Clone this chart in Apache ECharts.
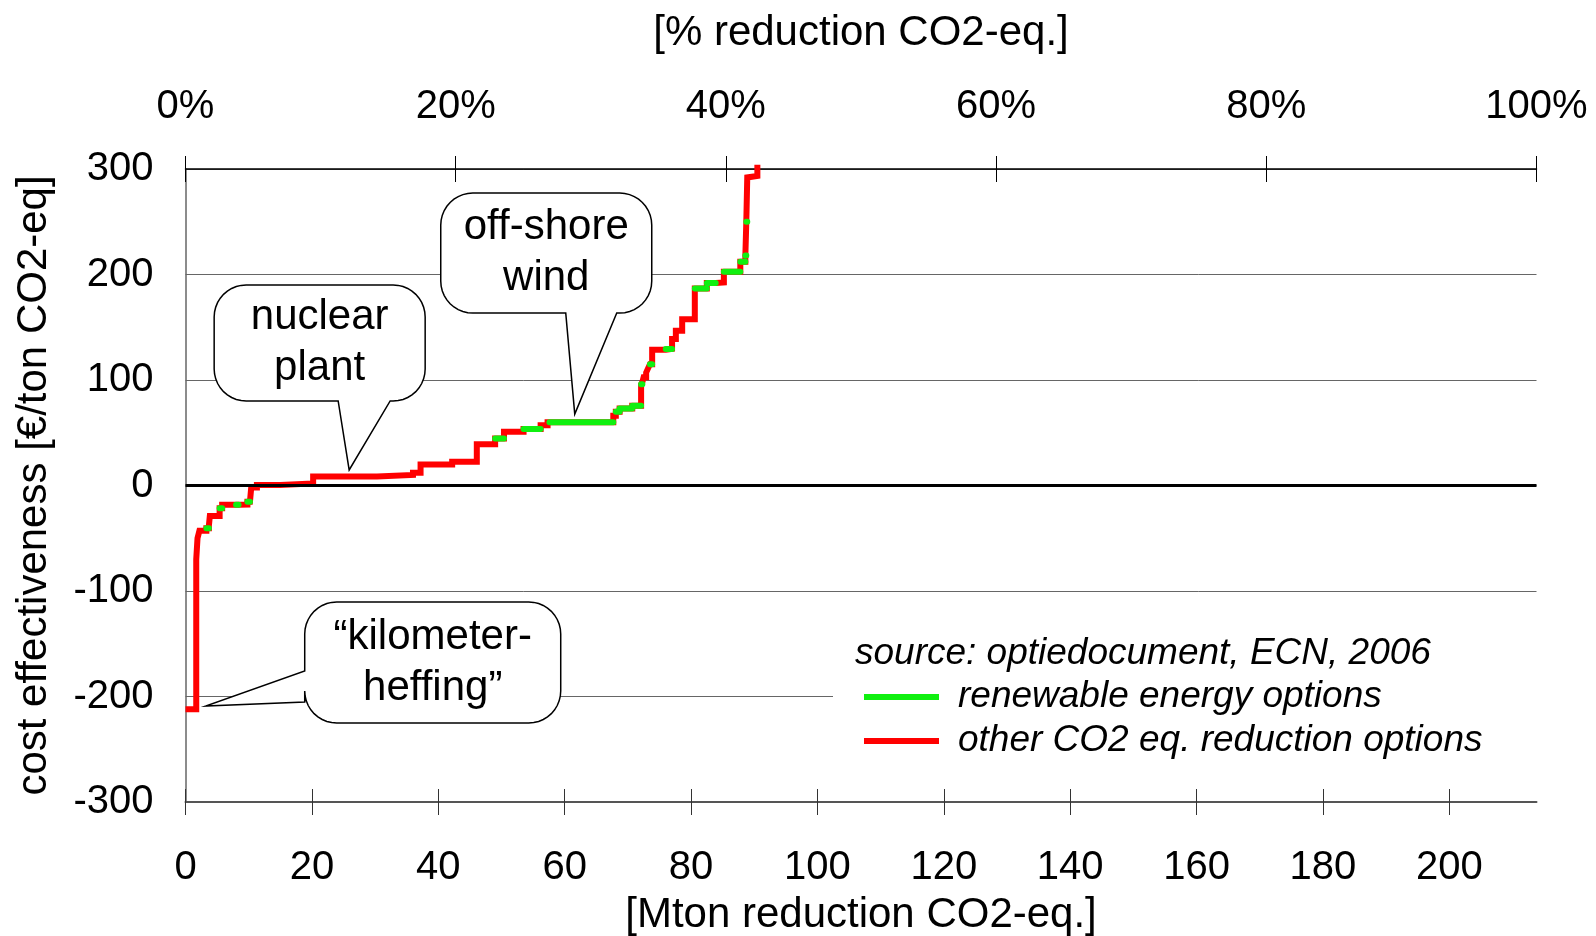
<!DOCTYPE html>
<html>
<head>
<meta charset="utf-8">
<script src="https://cdn.jsdelivr.net/npm/echarts@6/dist/echarts.min.js"></script>
<style>
html,body{margin:0;padding:0;background:#fff;}
#chart{width:1596px;height:936px;}
</style>
</head>
<body>
<div id="chart"></div>
<script>
// ---------- data ----------
// right edge (cumulative Mton CO2-eq.) of each reduction option, its cost (€/ton) and its kind
const optionEndMton = [1.7, 1.9, 2.2, 3.3, 3.7, 3.85, 5.4, 5.8, 8.0, 8.4, 9.8, 10.2, 10.4, 11.3, 15, 20.2,
  30.3, 36, 37.2, 42.2, 46.1, 49, 50.4, 53.5, 56.2, 57.3, 57.6, 67.7, 68.1, 68.7, 70.7, 72.1,
  72.3, 72.5, 72.9, 73.2, 73.5, 73.85, 76, 77, 77.6, 78.6, 80.6, 82.5, 83.9, 85.2, 87.8, 88.6,
  88.75, 88.9, 89.2, 90.5, 90.55];
const optionCost = [-212, -70, -50, -43, -40.6, -38, -29, -21.6, -18.3, -18.3, -18, -15.5, -15, -2, 0.5, 2,
  8.5, 10, 12, 20, 22.5, 39, 44.5, 51, 53.5, 57, 60, 60, 66, 70, 73, 75.5,
  96, 98, 102.5, 107, 111, 115, 128.7, 129.5, 138.8, 146.7, 157.7, 186.8, 192, 192.5, 202.6, 212,
  218, 250, 292, 293.5, 304];
// R = renewable energy option, O = other CO2 eq. reduction option
const optionKind = ['O','O','O','O','R','O','O','R','O','R','O','R','O','O','O','O',
  'O','O','O','O','O','O','R','O','R','O','O','R','O','R','R','R',
  'R','O','O','O','O','R','O','R','O','O','O','R','R','O','R','R',
  'R','R','O','O','O'];
const xTicksMton = [0, 20, 40, 60, 80, 100, 120, 140, 160, 180, 200];
const topTicksPct = [0, 20, 40, 60, 80, 100];
const yTicks = [-300, -200, -100, 0, 100, 200, 300];
const totalMton = 213.8;          // 100 % reduction
const seriesNames = ['renewable energy options', 'other CO2 eq. reduction options'];
const sourceText = 'source: optiedocument, ECN, 2006';
const calloutTexts = ['nuclear\nplant', 'off-shore\nwind', '\u201Ckilometer-\nheffing\u201D'];
const calloutAnchorX = [25.9, 61.6, 3.2];
const calloutAnchorY = [14.7, 67.7, -209];

// ---------- layout / style ----------
const FONT = '"Liberation Sans", Arial, Helvetica, sans-serif';
const calloutLayout = [
  {box: [-135, -185, 76, -69], side: 'bottom', base: [-11, 41], r: 32},
  {box: [-134, -221, 77, -101], side: 'bottom', base: [-9, 42], r: 32},
  {box: [99, -104, 355, 17], side: 'left', base: [-35, -4], r: 32}
];

// build step-curve points
const redPts = [];
const greenPts = [];
let prev = 0;
for (let i = 0; i < optionEndMton.length; i++) {
  const x0 = prev, x1 = optionEndMton[i], c = optionCost[i];
  redPts.push([x0, c], [x1, c]);
  if (optionKind[i] === 'R') {
    greenPts.push([x0, c], [x1, c], null);
  }
  prev = x1;
}

const chart = echarts.init(document.getElementById('chart'), null, {renderer: 'canvas'});

const axisNameStyle = {fontSize: 42, fontFamily: FONT, color: '#000'};
const labelStyle = {fontSize: 40, fontFamily: FONT, color: '#000'};

const option = {
  animation: false,
  backgroundColor: '#fff',
  grid: {left: 185.5, right: 59.5, top: 169, bottom: 134, containLabel: false, outerBoundsMode: 'none'},
  legend: {
    data: [seriesNames[0], seriesNames[1]],
    orient: 'vertical',
    left: 864, top: 677,
    padding: 0,
    icon: 'rect',
    itemWidth: 75, itemHeight: 6, itemGap: 4,
    selectedMode: false,
    textStyle: {fontSize: 37, fontStyle: 'italic', fontFamily: FONT, color: '#000',
      lineHeight: 40, padding: [0, 0, 0, 14]}
  },
  xAxis: [
    {
      type: 'value', position: 'bottom', min: 0, max: totalMton,
      axisLine: {show: true, onZero: false, lineStyle: {color: '#555', width: 2}},
      axisTick: {show: true, customValues: xTicksMton, length: 13, lineStyle: {color: '#333', width: 1}},
      axisLabel: {customValues: xTicksMton, margin: 46, ...labelStyle},
      splitLine: {show: false},
      name: '[Mton reduction CO2-eq.]', nameLocation: 'middle', nameGap: 92,
      nameTextStyle: axisNameStyle
    },
    {
      type: 'value', position: 'top', min: topTicksPct[0], max: topTicksPct[topTicksPct.length - 1], interval: 20,
      axisLine: {show: true, onZero: false, lineStyle: {color: '#000', width: 1.5}},
      axisTick: {show: true, length: 13, lineStyle: {color: '#000', width: 1}},
      axisLabel: {margin: 42, formatter: '{value}%', ...labelStyle},
      splitLine: {show: false},
      name: '[% reduction CO2-eq.]', nameLocation: 'middle', nameGap: 115,
      nameTextStyle: axisNameStyle
    },
    {
      type: 'value', position: 'bottom', min: 0, max: totalMton,
      axisLine: {show: false, onZero: false},
      axisTick: {show: true, inside: true, customValues: xTicksMton, length: 13, lineStyle: {color: '#333', width: 1}},
      axisLabel: {show: false},
      splitLine: {show: false}
    },
    {
      type: 'value', position: 'top', min: topTicksPct[0], max: topTicksPct[topTicksPct.length - 1], interval: 20,
      axisLine: {show: false, onZero: false},
      axisTick: {show: true, inside: true, length: 13, lineStyle: {color: '#000', width: 1}},
      axisLabel: {show: false},
      splitLine: {show: false}
    }
  ],
  yAxis: {
    type: 'value', min: yTicks[0], max: yTicks[yTicks.length - 1], interval: 100,
    axisLine: {show: true, onZero: false, lineStyle: {color: '#666', width: 1.5}},
    axisTick: {show: false},
    axisLabel: {margin: 32, ...labelStyle},
    splitLine: {show: true, lineStyle: {color: '#666', width: 1}},
    name: 'cost effectiveness [\u20AC/ton CO2-eq]', nameLocation: 'middle', nameGap: 130,
    nameTextStyle: axisNameStyle
  },
  series: [
    {
      name: seriesNames[1], type: 'line', xAxisIndex: 0, yAxisIndex: 0,
      data: redPts, symbol: 'none', showSymbol: false, clip: false, z: 3,
      lineStyle: {color: '#ff0000', width: 6, join: 'miter'},
      itemStyle: {color: '#ff0000'},
      markLine: {
        silent: true, symbol: ['none', 'none'], label: {show: false},
        lineStyle: {color: '#000', width: 3, type: 'solid'},
        data: [{yAxis: 0}]
      }
    },
    {
      name: seriesNames[0], type: 'line', xAxisIndex: 0, yAxisIndex: 0,
      data: greenPts, symbol: 'none', showSymbol: false, connectNulls: false, clip: false, z: 4,
      lineStyle: {color: '#10f010', width: 6, cap: 'round'},
      itemStyle: {color: '#10f010'}
    }
  ]
};

chart.setOption(option);

// ---------- callouts and legend header ----------
function arcPts(cx, cy, r, a0, a1, out) {
  const n = 10;
  for (let k = 0; k <= n; k++) {
    const a = (a0 + (a1 - a0) * k / n) * Math.PI / 180;
    out.push([cx + r * Math.cos(a), cy + r * Math.sin(a)]);
  }
}
function bubblePoly(tx, ty, L) {
  const x0 = tx + L.box[0], y0 = ty + L.box[1], x1 = tx + L.box[2], y1 = ty + L.box[3], r = L.r;
  const pts = [];
  arcPts(x0 + r, y0 + r, r, 180, 270, pts);
  arcPts(x1 - r, y0 + r, r, 270, 360, pts);
  arcPts(x1 - r, y1 - r, r, 0, 90, pts);
  if (L.side === 'bottom') {
    pts.push([tx + L.base[1], y1], [tx, ty], [tx + L.base[0], y1]);
  }
  arcPts(x0 + r, y1 - r, r, 90, 180, pts);
  if (L.side === 'left') {
    pts.push([x0, ty + L.base[1]], [tx, ty], [x0, ty + L.base[0]]);
  }
  return {pts: pts, cx: (x0 + x1) / 2, cy: (y0 + y1) / 2};
}

const graphics = [];
// white background behind legend (covers grid lines like the original)
graphics.push({
  type: 'rect', z: 3, silent: true,
  shape: {x: 833, y: 618, width: 704, height: 142},
  style: {fill: '#fff'}
});
graphics.push({
  type: 'text', z: 5, silent: true, x: 855, y: 654,
  style: {text: sourceText, fontSize: 37, fontStyle: 'italic', fontFamily: FONT, fill: '#000',
    align: 'left', verticalAlign: 'middle'}
});
for (let i = 0; i < calloutTexts.length; i++) {
  const pt = chart.convertToPixel({xAxisIndex: 0, yAxisIndex: 0}, [calloutAnchorX[i], calloutAnchorY[i]]);
  const b = bubblePoly(pt[0], pt[1], calloutLayout[i]);
  graphics.push({
    type: 'polygon', z: 10, silent: true,
    shape: {points: b.pts},
    style: {fill: '#fff', stroke: '#000', lineWidth: 1.5}
  });
  graphics.push({
    type: 'text', z: 11, silent: true, x: b.cx, y: b.cy,
    style: {text: calloutTexts[i], fontSize: 42, fontFamily: FONT, fill: '#000',
      align: 'center', verticalAlign: 'middle', lineHeight: 51}
  });
}
chart.setOption({graphic: graphics});
</script>
</body>
</html>
